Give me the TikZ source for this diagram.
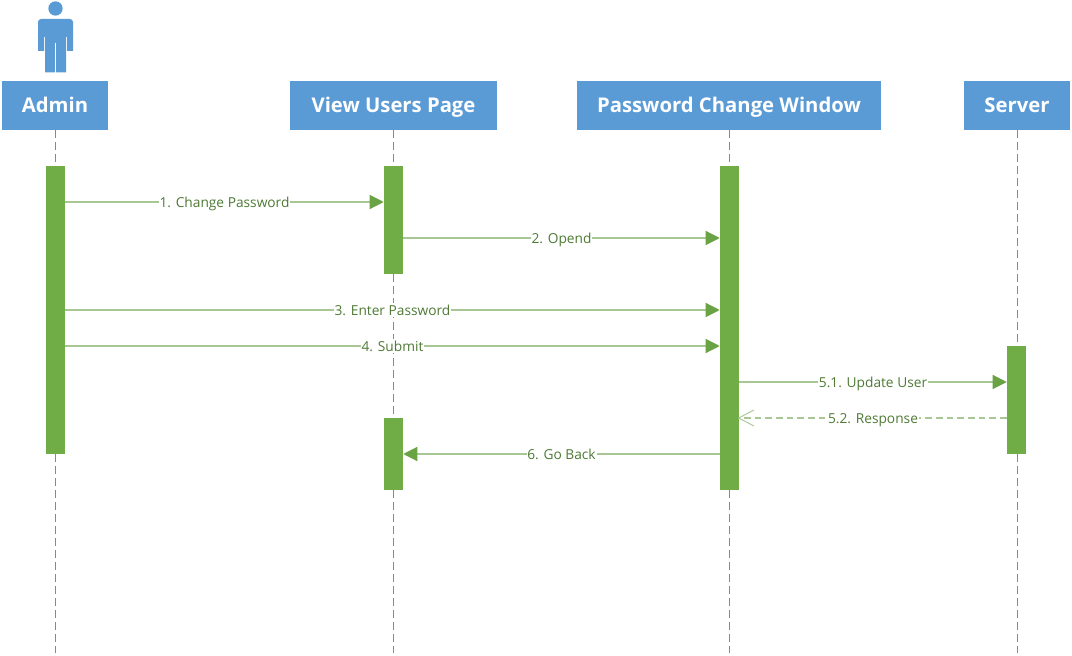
\documentclass[tikz,border=0pt]{standalone}
\usepackage{fontspec}
\setmainfont{Open Sans}
\usetikzlibrary{arrows.meta}
\definecolor{hdr}{HTML}{5B9BD5}
\definecolor{barc}{HTML}{70AD47}
\definecolor{linec}{HTML}{A9C795}
\definecolor{tipc}{HTML}{6AA343}
\definecolor{txtc}{HTML}{4F7A35}
\definecolor{lifec}{HTML}{5B92CC}
\tikzset{
  x=0.75pt,y=-0.75pt,
  header/.style={fill=hdr,text=white,font=\fontsize{15.2pt}{18pt}\selectfont\bfseries,inner sep=0pt,text height=11pt,text depth=0pt,minimum height=36.75pt,minimum width=#1*0.75pt},
  lifebar/.style={fill=barc,inner sep=0pt,minimum width=14.25pt,minimum height=#1*0.75pt},
  lifeline/.style={draw=lifec,line width=0.6pt,dash pattern=on 6pt off 3pt},
  msgfill/.style={draw=linec,line width=0.9pt,-{Triangle[length=10.5pt,width=10.5pt,color=tipc]},shorten >=0pt},
  msgback/.style={draw=linec,line width=0.9pt,dash pattern=on 5pt off 3pt,shorten >=-1.2pt,-{Straight Barb[length=11.5pt,width=12pt,color=linec,line width=0.7pt]}},
  msglabel/.style={fill=white,text=txtc,font=\fontsize{10.3pt}{12pt}\selectfont,inner xsep=0.6pt,inner ysep=0pt,text height=9.4pt,text depth=1pt,midway},
}
\begin{document}
\begin{tikzpicture}
\useasboundingbox (0,0) rectangle (1072,656);
% actor
\fill[hdr] (55.5,8.5) circle (5.4pt);
\fill[hdr] (38,51) -- (38,22) arc[start angle=180,end angle=90,radius=2.25pt] -- (70,19) arc[start angle=90,end angle=0,radius=2.25pt] -- (73,51) -- (67,51) -- (67,37) -- (66.2,37) -- (66.2,72.5) -- (56.2,72.5) -- (56.2,43) -- (54.8,43) -- (54.8,72.5) -- (45,72.5) -- (45,37) -- (44.2,37) -- (44.2,51) -- cycle;
% headers
\node[header=106] (admin) at (55,105.5) {Admin};
\node[header=207] (view) at (393.5,105.5) {View Users Page};
\node[header=304] (pwd) at (729,105.5) {Password Change Window};
\node[header=106] (srv) at (1017,105.5) {Server};
% lifeline ends
\coordinate (adminEnd) at (55.5,653);
\coordinate (viewEnd) at (393.5,653);
\coordinate (pwdEnd) at (729,653);
\coordinate (srvEnd) at (1017,653);
\draw[lifeline] (admin.south -| adminEnd) -- (adminEnd);
\draw[lifeline] (view.south) -- (viewEnd);
\draw[lifeline] (pwd.south) -- (pwdEnd);
\draw[lifeline] (srv.south) -- (srvEnd);
% activation bars
\node[lifebar=288] (a1) at (55.5,310) {};
\node[lifebar=108] (v1) at (393.5,220) {};
\node[lifebar=72] (v2) at (393.5,454) {};
\node[lifebar=324] (p1) at (729.5,328) {};
\node[lifebar=108] (s1) at (1016.5,400) {};
% messages
\draw[msgfill] (a1.east |- 0,202) -- node[msglabel] {1. Change Password} (v1.west |- 0,202);
\draw[msgfill] (v1.east |- 0,238) -- node[msglabel] {2. Opend} (p1.west |- 0,238);
\draw[msgfill] (a1.east |- 0,310) -- node[msglabel] {3. Enter Password} (p1.west |- 0,310);
\draw[msgfill] (a1.east |- 0,346) -- node[msglabel] {4. Submit} (p1.west |- 0,346);
\draw[msgfill] (p1.east |- 0,382) -- node[msglabel] {5.1. Update User} (s1.west |- 0,382);
\draw[msgback] (s1.west |- 0,418) -- node[msglabel] {5.2. Response} (p1.east |- 0,418);
\draw[msgfill] (p1.west |- 0,454) -- node[msglabel] {6. Go Back} (v2.east |- 0,454);
\end{tikzpicture}
\end{document}
